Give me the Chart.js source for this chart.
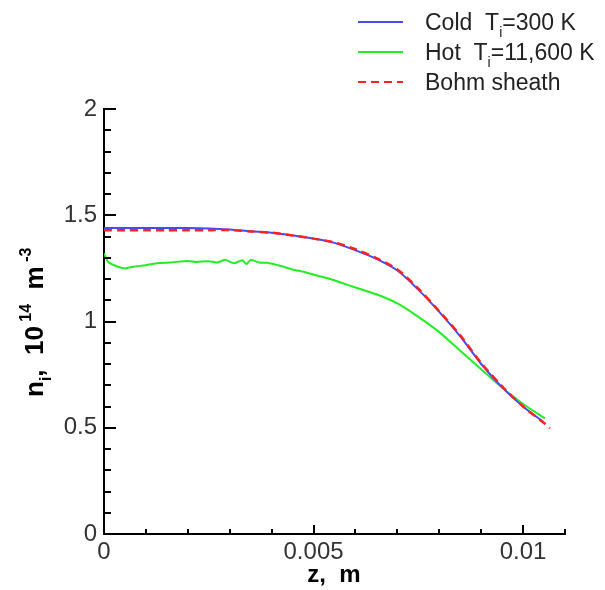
<!DOCTYPE html>
<html>
<head>
<meta charset="utf-8">
<script src="https://cdn.jsdelivr.net/npm/chart.js@4"></script>
<style>
  html, body { margin: 0; padding: 0; background: #fff; }
  #wrap { width: 605px; height: 590px; }
</style>
</head>
<body>
<div id="wrap"><canvas id="densidadChart" width="605" height="590"></canvas></div>
<script>
// Datos (z en m, n_i en 1e14 m^-3)
var frioZ = [0, 0.0005, 0.001, 0.0015, 0.002, 0.0025, 0.003, 0.0035, 0.004, 0.0045, 0.005, 0.0055,
             0.006, 0.0065, 0.007, 0.0075, 0.008, 0.0085, 0.009, 0.0095, 0.01, 0.01048];
var frioN = [1.44, 1.44, 1.44, 1.44, 1.44, 1.438, 1.433, 1.425, 1.418, 1.405, 1.39, 1.37,
             1.335, 1.295, 1.24, 1.15, 1.045, 0.93, 0.8, 0.69, 0.6, 0.528];

var calienteZ = [0, 0.0001, 0.0003, 0.0005, 0.0007, 0.001, 0.0013, 0.0016, 0.002, 0.0022, 0.0025,
                 0.0027, 0.0029, 0.0031, 0.0033, 0.0034, 0.0035, 0.0037, 0.0039, 0.0042, 0.0045,
                 0.0048, 0.0051, 0.0054, 0.0057, 0.006, 0.0065, 0.007, 0.0075, 0.008, 0.0085,
                 0.009, 0.0095, 0.01, 0.01052];
var calienteN = [1.32, 1.28, 1.26, 1.25, 1.258, 1.265, 1.275, 1.278, 1.285, 1.28, 1.284,
                 1.278, 1.29, 1.274, 1.288, 1.27, 1.29, 1.278, 1.276, 1.262, 1.245,
                 1.232, 1.215, 1.2, 1.18, 1.16, 1.128, 1.085, 1.022, 0.95, 0.862,
                 0.775, 0.688, 0.612, 0.544];

var bohmZ = [0, 0.0005, 0.001, 0.0015, 0.002, 0.0025, 0.003, 0.0035, 0.004, 0.0045, 0.005, 0.0055,
             0.006, 0.0065, 0.007, 0.0075, 0.008, 0.0085, 0.009, 0.0095, 0.01, 0.0105, 0.01064];
var bohmN = [1.43, 1.43, 1.43, 1.43, 1.43, 1.43, 1.43, 1.424, 1.418, 1.405, 1.39, 1.372,
             1.34, 1.298, 1.245, 1.155, 1.048, 0.935, 0.805, 0.695, 0.6, 0.522, 0.497];

var etiquetasX = [0, 0.005, 0.01];
var etiquetasY = [0, 0.5, 1, 1.5, 2];

function puntos(zs, ns) {
    return zs.map(function (z, i) { return { x: z, y: ns[i] }; });
}

var fuente = "'Liberation Sans', Arial, sans-serif";

// Marcas de los ejes hacia adentro
var marcasInternas = {
    id: 'marcasInternas',
    afterDraw: function (chart) {
        var ctx = chart.ctx, a = chart.chartArea, x = chart.scales.x, y = chart.scales.y;
        ctx.save();
        ctx.strokeStyle = '#000';
        ctx.lineWidth = 2;
        ctx.beginPath();
        for (var i = 0; i <= 20; i++) {
            var py = Math.round(y.getPixelForValue(i / 10));
            var largo = (i % 5 === 0) ? 12 : 7;
            ctx.moveTo(a.left, py);
            ctx.lineTo(a.left + largo, py);
        }
        for (var j = 0; j <= 11; j++) {
            var px = Math.round(x.getPixelForValue(j / 1000));
            var largoX = (j % 5 === 0) ? 9 : 5;
            ctx.moveTo(px, a.bottom);
            ctx.lineTo(px, a.bottom - largoX);
        }
        ctx.stroke();
        ctx.restore();
    }
};

// Leyenda y titulos con subindices
function textoCorrido(ctx, partes, x, y, tam, negrita) {
    partes.forEach(function (p) {
        var t = p.sub || p.sup ? Math.round(tam * 0.6) : tam;
        ctx.font = (negrita ? 'bold ' : '') + t + 'px ' + fuente;
        var dy = p.sub ? tam * 0.3 : (p.sup ? -tam * 0.45 : 0);
        ctx.fillText(p.t, x, y + dy);
        x += ctx.measureText(p.t).width;
    });
    return x;
}

var leyendaYTitulos = {
    id: 'leyendaYTitulos',
    afterDraw: function (chart) {
        var ctx = chart.ctx;
        ctx.save();
        ctx.textBaseline = 'alphabetic';
        ctx.fillStyle = '#222';
        var filas = [
            { color: '#4848ff', dash: [], partes: [{ t: 'Cold  T' }, { t: 'i', sub: true }, { t: '=300 K' }] },
            { color: '#22ee22', dash: [], partes: [{ t: 'Hot  T' }, { t: 'i', sub: true }, { t: '=11,600 K' }] },
            { color: '#ff2222', dash: [8, 5], partes: [{ t: 'Bohm sheath' }] }
        ];
        filas.forEach(function (f, i) {
            var yy = 22 + i * 30;
            ctx.strokeStyle = f.color;
            ctx.lineWidth = 2;
            ctx.setLineDash(f.dash);
            ctx.beginPath();
            ctx.moveTo(358, yy);
            ctx.lineTo(403, yy);
            ctx.stroke();
            ctx.setLineDash([]);
            textoCorrido(ctx, f.partes, 425, yy + 8, 23, false);
        });

        // titulo eje x
        ctx.fillStyle = '#000';
        ctx.font = 'bold 24px ' + fuente;
        ctx.textAlign = 'center';
        ctx.fillText('z,  m', 334, 582);
        ctx.textAlign = 'left';

        // titulo eje y (rotado)
        ctx.translate(43, 397);
        ctx.rotate(-Math.PI / 2);
        textoCorrido(ctx, [{ t: 'n' }, { t: 'i', sub: true }, { t: ',  10' }, { t: ' 14', sup: true },
                           { t: '  m' }, { t: ' -3', sup: true }], 0, 0, 26, true);
        ctx.restore();
    }
};

function formatear(v) {
    return String(Math.round(v * 1000) / 1000);
}

var ctx = document.getElementById('densidadChart');
new Chart(ctx.getContext('2d'), {
    type: 'line',
    data: {
        datasets: [{
            label: 'Cold',
            data: puntos(frioZ, frioN),
            borderColor: '#4848ff',
            borderWidth: 2,
            pointRadius: 0,
            tension: 0.3,
            order: 2
        }, {
            label: 'Hot',
            data: puntos(calienteZ, calienteN),
            borderColor: '#22ee22',
            borderWidth: 2,
            pointRadius: 0,
            tension: 0.2,
            order: 3
        }, {
            label: 'Bohm sheath',
            data: puntos(bohmZ, bohmN),
            borderColor: '#ff2222',
            borderWidth: 2.5,
            borderDash: [8, 5],
            pointRadius: 0,
            tension: 0.3,
            order: 1
        }]
    },
    options: {
        responsive: false,
        animation: false,
        layout: { padding: { left: 0, top: 109, right: 40, bottom: 0 } },
        plugins: {
            legend: { display: false },
            tooltip: { enabled: false }
        },
        scales: {
            x: {
                type: 'linear',
                min: 0,
                max: 0.011,
                grid: { display: false, drawTicks: false },
                border: { display: true, color: '#000', width: 2 },
                afterFit: function (s) { s.height = 56; },
                afterBuildTicks: function (s) {
                    s.ticks = etiquetasX.map(function (v) { return { value: v }; });
                },
                ticks: {
                    padding: 4,
                    maxRotation: 0,
                    color: '#333',
                    font: { family: fuente, size: 24 },
                    callback: function (v) { return formatear(v); }
                }
            },
            y: {
                min: 0,
                max: 2,
                grid: { display: false, drawTicks: false },
                border: { display: true, color: '#000', width: 2 },
                afterFit: function (s) { s.width = 104; },
                afterBuildTicks: function (s) {
                    s.ticks = etiquetasY.map(function (v) { return { value: v }; });
                },
                ticks: {
                    padding: 7,
                    color: '#333',
                    font: { family: fuente, size: 24 },
                    callback: function (v) { return formatear(v); }
                }
            }
        }
    },
    plugins: [marcasInternas, leyendaYTitulos]
});
</script>
</body>
</html>
